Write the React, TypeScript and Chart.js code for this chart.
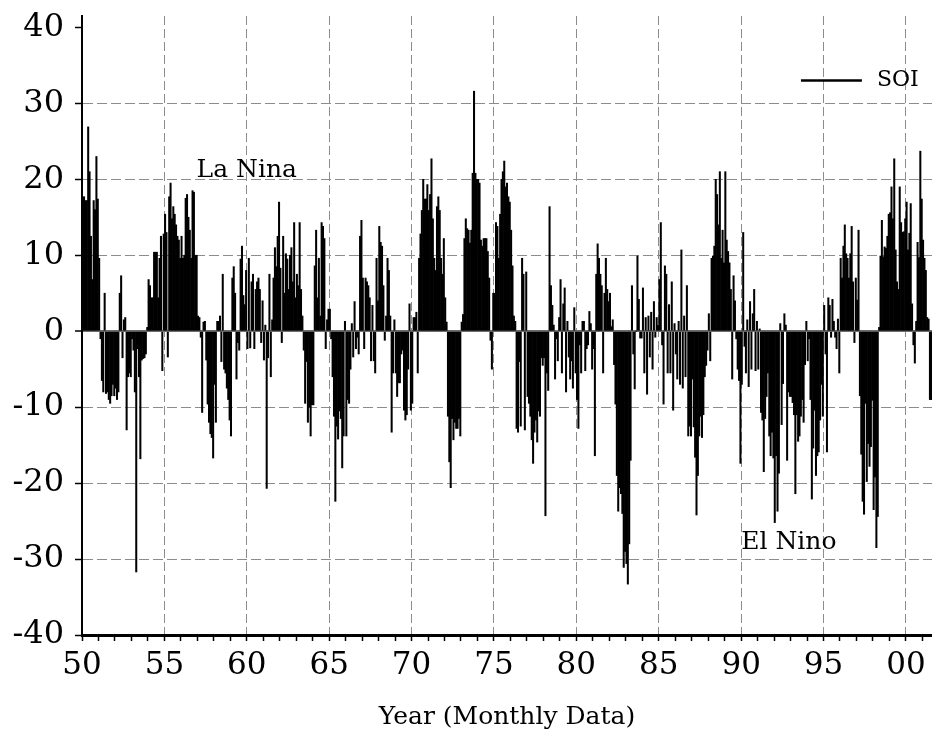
import { useEffect, useRef } from "react";
import { Chart, registerables } from "chart.js";

Chart.register(...registerables);

// ---------------- data (monthly SOI, Jan 1950 onward) ----------------
const START_YEAR = 1950;

const soi1950s = [
  17.7, 17.7, 17.2, 17.2, 26.9, 21.0, 12.5, 6.8, 17.2, 16.0, 23.0, 17.4, // 1950
  9.6, -1.0, -6.5, -8.0, 5.0, -8.2, -8.0, -9.0, -9.5, -8.5, -7.0, -8.5, // 1951
  -7.5, -9.0, -8.0, 5.0, 7.3, -3.5, 1.5, 1.8, -13.0, -6.0, -5.5, -6.0, // 1952
  -1.0, -2.5, -8.0, -31.7, -2.3, -6.0, -16.8, -3.8, -3.6, -3.5, -3.0, 0.5, // 1953
  6.8, 6.0, 4.4, 4.4, 10.4, 10.4, 10.4, 4.4, 9.6, 12.5, -5.2, 12.8, // 1954
  15.4, 13.0, -3.4, 17.7, 19.5, 14.8, 16.4, 15.4, 14.0, 12.5, 12.0, 9.6, // 1955
  12.5, 9.6, 10.0, 17.5, 18.0, 15.0, 13.3, 9.6, 18.5, 18.3, 10.0, 10.0, // 1956
  2.0, 1.8, -0.8, -10.7, 1.2, 1.3, -3.8, -9.6, -12.0, -13.5, -14.0, -16.7, // 1957
  -7.0, -12.0, 1.3, 1.3, 2.0, -4.0, 7.5, -5.0, -5.5, -7.5, -9.0, -11.7, // 1958
  -13.8, 7.0, 8.5, 5.0, -6.3, -1.5, -2.5, 9.5, 11.2, 4.7, 3.5, 8.0, // 1959
];

const soi1960s = [
  -2.3, 9.6, -2.2, 6.5, 7.5, -2.3, 5.5, 6.5, 7.0, 5.5, -1.5, 4.0, // 1960
  -3.8, 0.8, -20.7, -3.5, 7.5, -6.0, 1.5, 7.0, 11.0, 8.5, 12.5, 17.0, // 1961
  8.3, -1.5, 12.5, 5.0, 10.2, 9.5, 5.5, 10.0, 11.0, 6.5, 14.3, 4.4, // 1962
  7.5, 6.0, 14.3, 5.5, 2.0, -2.5, -9.5, -4.0, -12.0, -10.0, -13.8, -9.7, // 1963
  -9.7, 8.6, 13.3, 4.4, 9.6, 2.0, 14.3, 13.8, 12.2, -2.3, 1.5, 2.9, // 1964
  2.9, -1.0, -6.0, -11.2, -22.4, -12.5, -14.2, -10.5, -11.5, -18.0, -13.8, 1.3, // 1965
  -13.8, -9.0, -9.5, -5.0, 1.0, -3.4, 3.9, -2.3, -0.8, -3.0, 12.5, 14.6, // 1966
  7.0, -2.3, 7.0, 6.5, 6.0, 4.4, -3.9, 3.4, -3.9, -5.5, 9.6, 4.0, // 1967
  13.8, 11.7, 11.2, 6.0, -1.2, 2.0, 9.6, 8.0, 2.0, -13.3, -5.5, 1.5, // 1968
  -5.5, -8.6, -6.8, -6.8, -3.0, -2.5, -10.4, -11.7, -11.0, -5.0, 3.6, -10.4, // 1969
];

const soi1970s = [
  -9.5, 1.8, 1.8, 2.5, -5.5, 9.6, 12.8, 15.9, 20.0, 17.4, 17.4, 19.3, // 1970
  15.9, 18.0, 22.7, 14.8, 9.6, 8.0, 16.4, 17.7, 15.9, 9.6, 7.5, 12.2, // 1971
  4.4, 1.2, -11.2, -17.2, -20.6, -11.5, -14.3, -12.0, -12.8, -12.8, -11.5, -13.8, // 1972
  1.2, 2.2, 12.2, 14.8, 13.5, 13.3, 11.6, 13.3, 20.8, 31.6, 20.8, 20.0, // 1973
  20.0, 19.5, 12.0, 11.2, 12.2, 12.2, 12.2, 10.5, 7.0, -1.2, -5.0, 5.0, // 1974
  5.0, 14.3, 13.8, 9.6, 15.4, 20.0, 21.0, 22.4, 19.0, 19.5, 17.7, 17.0, // 1975
  13.3, 8.6, 2.0, 1.3, -12.8, -13.3, -4.0, -12.5, 9.6, 7.5, -13.0, 7.8, // 1976
  -8.6, -9.5, -11.2, -14.3, -17.4, -13.3, -11.7, -14.6, -10.5, -11.2, -3.5, -4.5, // 1977
  -3.5, -24.3, -5.5, -7.8, 16.4, 6.0, 3.4, 0.8, -6.3, -1.0, -3.9, 1.8, // 1978
  6.8, -5.5, 3.6, 5.7, -8.0, 1.3, -3.4, -6.3, -3.9, -7.5, 3.1, -5.5, // 1979
];

const soi1980s = [
  -9.0, -12.8, -1.8, -5.5, 1.3, 1.3, -5.2, -2.3, -1.8, 2.6, 1.0, -5.0, // 1980
  -2.3, -16.4, 7.5, 11.5, 9.6, 7.5, 6.0, -5.5, 5.0, 9.6, 5.5, 3.9, // 1981
  5.0, 0.6, 1.5, -4.4, -9.6, -19.0, -23.7, -20.6, -21.4, -24.0, -31.1, -29.0, // 1982
  -30.6, -33.3, -28.0, -17.0, 6.0, -3.0, -7.6, 0.0, 9.9, 4.2, -0.9, -0.9, // 1983
  5.7, -5.5, 1.8, -8.3, 2.0, -3.4, 2.5, -5.0, 3.9, -0.8, 1.8, 0.8, // 1984
  6.8, 14.3, -1.8, -9.6, 8.6, 7.5, -5.5, 3.5, -5.5, 6.5, -10.4, 1.0, // 1985
  -3.0, -6.3, 1.3, -7.0, 10.7, -7.5, 2.0, -6.0, 6.0, -13.8, -12.5, -13.8, // 1986
  -6.3, -12.6, -16.6, -24.2, -19.0, -13.8, -11.2, -14.0, -11.0, -6.0, -4.5, -2.5, // 1987
  2.3, -3.9, 9.6, 9.9, 11.2, 20.0, 18.0, 14.0, 21.0, 9.6, 13.3, 9.0, // 1988
  21.0, 12.0, 10.5, 9.0, 5.5, -6.3, 7.3, 4.0, -1.0, -5.0, -6.5, -17.4, // 1989
];

const soi1990s = [
  -7.0, 13.0, -2.0, -5.5, 1.5, -7.3, 3.9, -5.0, 2.3, 5.5, -5.2, 1.3, // 1990
  -5.0, 0.3, -10.7, -11.7, -18.5, -11.5, -8.6, -5.5, -13.8, -16.4, -13.3, -16.7, // 1991
  -25.2, -16.4, -23.7, -18.7, 1.0, -12.3, -6.9, 2.3, 0.8, -17.0, -8.0, -8.6, // 1992
  -8.6, -9.4, -11.0, -21.4, -11.0, -14.5, -13.8, -11.2, -9.0, -12.0, -4.4, 1.3, // 1993
  -3.9, -1.0, -9.0, -22.1, -15.4, -10.4, -19.0, -16.4, -15.9, -11.7, -7.0, -11.2, // 1994
  3.4, -3.0, -15.9, 4.4, 3.4, -0.8, 4.2, 1.3, -0.8, -2.3, 1.6, -5.5, // 1995
  9.6, 7.0, 11.2, 14.0, 10.2, 9.6, 7.0, 10.2, 13.8, 6.5, -1.5, 7.0, // 1996
  4.1, 13.3, -8.5, -16.2, -22.4, -24.1, -9.5, -19.8, -14.8, -17.8, -15.2, -9.1, // 1997
  -23.5, -19.2, -28.5, -24.4, 0.5, 9.9, 14.6, 9.8, 11.1, 10.9, 12.5, 15.4, // 1998
  15.6, 19.0, 14.8, 22.7, 10.7, 6.5, 5.5, 19.0, 14.3, 13.0, 13.1, 14.8, // 1999
];

const soi2000s = [
  17.0, 10.7, 12.9, 16.8, 3.6, -1.8, -4.2, 1.3, 11.7, 9.7, 23.7, 17.4, // 2000
  12.0, 9.6, 8.0, 1.8, 1.6, -9.0, -9.0, // 2001
];

const yearTickLabels = ["50", "55", "60", "65", "70", "75", "80", "85", "90", "95", "00"];
const yTickValues = [-40, -30, -20, -10, 0, 10, 20, 30, 40];
const seriesLabel = "SOI";
const xTitle = "Year (Monthly Data)";
const notes = [
  { text: "La Nina", year: 1960.0, value: 21.2 },
  { text: "El Nino", year: 1992.9, value: -27.8 },
];

const FONT = "'DejaVu Serif', 'Liberation Serif', serif";

const overlayPlugin = {
  id: "overlay",
  afterDraw(chart: any) {
    const { ctx, scales } = chart;
    const x = scales.x;
    const y = scales.y;
    ctx.save();
    ctx.fillStyle = "#000";
    ctx.textBaseline = "middle";
    ctx.textAlign = "center";
    ctx.font = `25px ${FONT}`;
    notes.forEach((n) => {
      ctx.fillText(n.text, x.getPixelForValue(n.year), y.getPixelForValue(n.value));
    });
    // legend
    const ly = y.getPixelForValue(33);
    const x1 = x.getPixelForValue(1993.63);
    const x2 = x.getPixelForValue(1997.33);
    ctx.strokeStyle = "#000";
    ctx.lineWidth = 2.5;
    ctx.beginPath();
    ctx.moveTo(x1, ly);
    ctx.lineTo(x2, ly);
    ctx.stroke();
    ctx.textAlign = "left";
    ctx.font = `22px ${FONT}`;
    ctx.fillText(seriesLabel, x.getPixelForValue(1998.24), ly);
    ctx.restore();
  },
};

export default function App() {
  const canvasRef = useRef<HTMLCanvasElement | null>(null);

  useEffect(() => {
    const canvas = canvasRef.current;
    if (!canvas) return;
    const values = [...soi1950s, ...soi1960s, ...soi1970s, ...soi1980s, ...soi1990s, ...soi2000s];
    const points = values.map((v, i) => ({ x: START_YEAR + (i + 0.5) / 12, y: v }));
    const endYear = START_YEAR + values.length / 12;
    const yearTicks: number[] = [];
    for (let yr = START_YEAR; yr <= Math.floor(endYear); yr++) yearTicks.push(yr);

    const zeroPadding = (s: any) => {
      s.paddingTop = 0;
      s.paddingBottom = 0;
      s.paddingLeft = 0;
      s.paddingRight = 0;
    };

    const chart = new Chart(canvas, {
      type: "bar",
      data: {
        datasets: [
          {
            label: seriesLabel,
            data: points as any,
            backgroundColor: "#000",
            borderWidth: 0,
            barPercentage: 1,
            categoryPercentage: 1,
          },
        ],
      },
      options: {
        responsive: false,
        animation: false,
        events: [],
        layout: { padding: { top: 16, right: 0, left: 0, bottom: 0 } },
        plugins: { legend: { display: false }, tooltip: { enabled: false } },
        scales: {
          x: {
            type: "linear",
            min: START_YEAR,
            max: endYear,
            offset: false,
            afterBuildTicks: (s: any) => {
              s.ticks = yearTicks.map((v) => ({ value: v }));
            },
            afterFit: (s: any) => {
              s.height = 96;
              zeroPadding(s);
            },
            ticks: {
              autoSkip: false,
              maxRotation: 0,
              minRotation: 0,
              padding: 6,
              color: "#000",
              font: { family: FONT, size: 31 },
              callback: (v: any) => {
                const n = Number(v);
                return n % 5 === 0 ? yearTickLabels[(n - START_YEAR) / 5] : "";
              },
            },
            grid: {
              offset: false,
              color: (c: any) =>
                c.tick && c.tick.value % 5 === 0 && c.tick.value !== START_YEAR ? "#8c8c8c" : "rgba(0,0,0,0)",
              lineWidth: 1,
              tickColor: "#000",
              tickLength: 6,
              tickWidth: 1.5,
            },
            border: { color: "#000", width: 3, dash: [9, 4] },
            title: {
              display: true,
              text: xTitle,
              color: "#000",
              font: { family: FONT, size: 25, lineHeight: 1 },
              padding: { top: 0, bottom: 1 },
            },
          },
          y: {
            min: -40,
            max: 41.5,
            afterBuildTicks: (s: any) => {
              s.ticks = yTickValues.map((v) => ({ value: v }));
            },
            afterFit: (s: any) => {
              s.width = 82;
              zeroPadding(s);
            },
            ticks: {
              padding: 11,
              color: "#000",
              font: { family: FONT, size: 32 },
              callback: (v: any) => String(v),
            },
            grid: {
              color: (c: any) => {
                const v = c.tick ? c.tick.value : undefined;
                if (v === 0) return "#6e6e6e";
                if (v !== undefined && Math.abs(v) <= 30) return "#8c8c8c";
                return "rgba(0,0,0,0)";
              },
              lineWidth: (c: any) => (c.tick && c.tick.value === 0 ? 2 : 1),
              tickColor: "#000",
              tickLength: 7,
              tickWidth: 1.5,
            },
            border: {
              color: "#000",
              width: 2,
              dash: (c: any) => (c.tick && c.tick.value === 0 ? [] : [10, 4]),
            },
          },
        },
      } as any,
      plugins: [overlayPlugin],
    });
    return () => chart.destroy();
  }, []);

  return (
    <div style={{ position: "absolute", left: 0, top: 0, width: 932, height: 731, background: "#fff" }}>
      <canvas ref={canvasRef} width={932} height={731} style={{ display: "block" }} />
    </div>
  );
}
